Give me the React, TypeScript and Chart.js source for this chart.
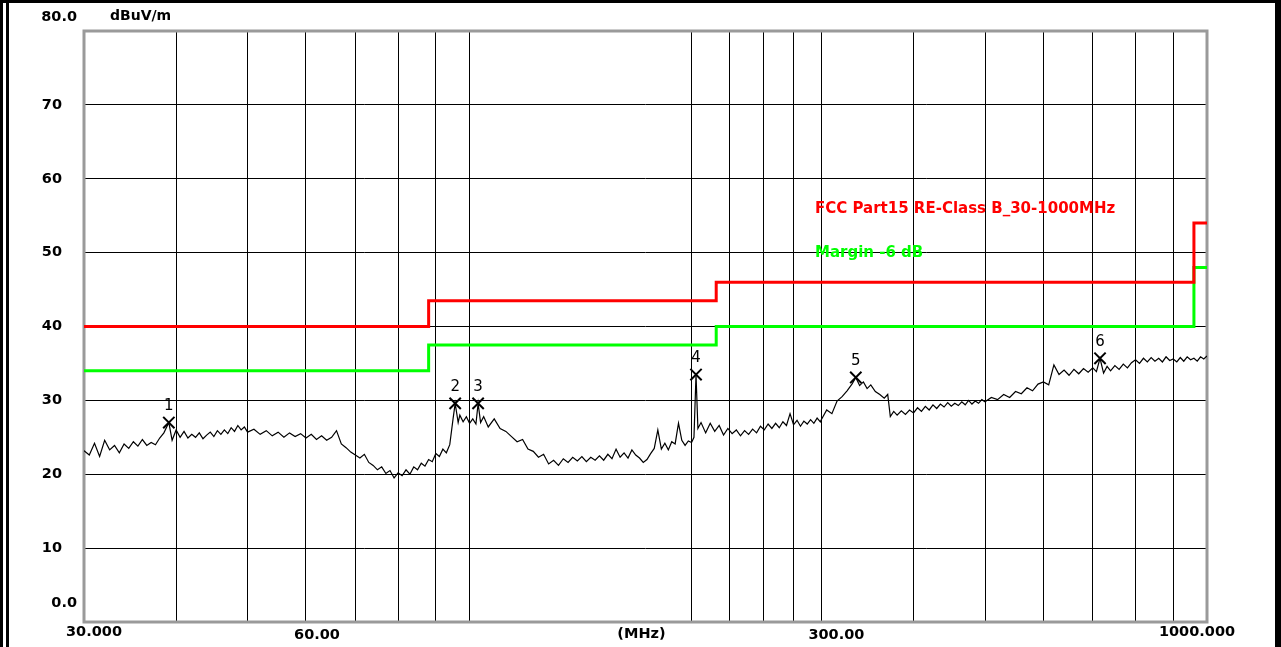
import React, { useEffect, useRef } from 'react';
import { Chart, registerables } from 'chart.js';

Chart.register(...registerables);

const FONT = '"DejaVu Sans", "Liberation Sans", sans-serif';

// ---- Measured trace (frequency in MHz, level in dBuV/m) ----
const traceFreqA = [30, 30.5, 31, 31.5, 32, 32.5, 33, 33.5, 34, 34.5, 35, 35.5, 36, 36.5, 37, 37.5, 38, 38.5, 39.1, 39.5, 40];
const traceValA = [23.2, 22.6, 24.2, 22.4, 24.6, 23.3, 23.9, 22.9, 24.1, 23.5, 24.4, 23.8, 24.7, 23.9, 24.3, 24.0, 24.9, 25.6, 27.0, 24.6, 26.0];

const traceFreqB = [40.5, 41, 41.5, 42, 42.5, 43, 43.5, 44, 44.5, 45, 45.5, 46, 46.5, 47, 47.5, 48, 48.5, 49, 49.5, 50];
const traceValB = [25.0, 25.8, 24.9, 25.4, 25.0, 25.6, 24.8, 25.3, 25.7, 25.1, 25.9, 25.4, 26.0, 25.5, 26.3, 25.8, 26.6, 26.0, 26.4, 25.7];

const traceFreqC = [51, 52, 53, 54, 55, 56, 57, 58, 59, 60, 61, 62, 63, 64, 65, 66, 67, 68, 69, 70];
const traceValC = [26.1, 25.4, 25.9, 25.2, 25.7, 25.0, 25.6, 25.1, 25.5, 24.9, 25.4, 24.7, 25.2, 24.6, 25.0, 25.9, 24.1, 23.6, 23.0, 22.6];

const traceFreqD = [71, 72, 73, 74, 75, 76, 77, 78, 79, 80, 81, 82, 83, 84, 85, 86, 87, 88, 89, 90, 91, 92, 93, 94, 95, 95.6, 96.5, 97, 98, 99, 100];
const traceValD = [22.2, 22.7, 21.6, 21.2, 20.6, 21.0, 20.1, 20.5, 19.5, 20.2, 19.8, 20.6, 20.0, 21.0, 20.6, 21.5, 21.1, 22.0, 21.7, 22.8, 22.4, 23.4, 22.9, 24.0, 27.6, 29.6, 27.0, 28.0, 27.1, 27.8, 26.9];

const traceFreqE = [101, 102, 102.7, 103.5, 104.5, 106, 108, 110, 112, 114, 116, 118, 120, 122, 124, 126, 128, 130, 132, 134, 136, 138, 140, 142, 144, 146, 148, 150, 152, 154, 156, 158, 160, 162, 164, 166, 168, 170, 172, 174, 176, 178, 180, 182, 184, 186, 188, 190, 192, 194, 196, 198, 200];
const traceValE = [27.5, 26.8, 29.6, 27.0, 27.8, 26.4, 27.5, 26.2, 25.8, 25.1, 24.4, 24.7, 23.4, 23.1, 22.3, 22.7, 21.4, 21.9, 21.2, 22.1, 21.6, 22.3, 21.8, 22.4, 21.7, 22.3, 21.9, 22.5, 21.9, 22.7, 22.1, 23.4, 22.3, 22.9, 22.2, 23.3, 22.6, 22.2, 21.6, 22.0, 22.8, 23.5, 26.0, 23.4, 24.2, 23.3, 24.4, 24.1, 26.9, 24.6, 23.9, 24.5, 24.3];

const traceFreqF = [201.5, 202.8, 204, 206, 209, 212, 215, 218, 221, 224, 227, 230, 233, 236, 239, 242, 245, 248, 251, 254, 257, 260, 263, 266, 269, 272, 275, 278, 281, 284, 287, 290, 293, 296, 299];
const traceValF = [25.0, 33.5, 26.2, 27.0, 25.6, 26.9, 25.8, 26.6, 25.3, 26.2, 25.5, 26.0, 25.2, 25.9, 25.4, 26.1, 25.6, 26.5, 26.0, 26.8, 26.2, 26.9, 26.3, 27.1, 26.6, 28.2, 26.7, 27.3, 26.5, 27.2, 26.8, 27.4, 26.9, 27.6, 27.1];

const traceFreqG = [300, 305, 310, 315, 320, 325, 330, 334, 338, 342, 346, 350, 355, 360, 365, 369, 372, 376, 380, 385, 390, 395, 400, 405, 410, 415, 420, 425, 430, 435, 440, 445, 450, 455, 460, 465, 470, 475, 480, 485, 490, 495];
const traceValG = [27.4, 28.7, 28.2, 29.9, 30.5, 31.3, 32.2, 33.1, 32.0, 32.5, 31.6, 32.1, 31.2, 30.8, 30.3, 30.8, 27.8, 28.5, 28.0, 28.6, 28.1, 28.7, 28.3, 29.0, 28.5, 29.2, 28.7, 29.4, 28.9, 29.5, 29.1, 29.7, 29.2, 29.6, 29.3, 29.8, 29.4, 30.0, 29.5, 29.9, 29.6, 30.1];

const traceFreqH = [500, 510, 520, 530, 540, 550, 560, 570, 580, 590, 600, 610, 620, 630, 640, 650, 660, 670, 680, 690, 700, 708, 716, 724, 732, 740, 750, 760, 770, 780, 790, 800, 810, 820, 830, 840, 850, 860, 870, 880, 890, 900, 910, 920, 930, 940, 950, 960, 970, 980, 990, 1000];
const traceValH = [29.8, 30.4, 30.1, 30.8, 30.4, 31.2, 30.9, 31.7, 31.3, 32.2, 32.5, 32.1, 34.8, 33.5, 34.1, 33.4, 34.2, 33.6, 34.3, 33.8, 34.4, 33.9, 35.7, 33.7, 34.6, 34.0, 34.7, 34.2, 34.9, 34.4, 35.1, 35.5, 35.0, 35.7, 35.2, 35.8, 35.3, 35.7, 35.2, 35.9, 35.4, 35.6, 35.2, 35.8, 35.3, 35.9, 35.5, 35.7, 35.3, 35.9, 35.6, 36.0];

// ---- Limit lines ----
const limitFreqs = [30, 88, 216, 960, 1000];
const limitValues = [40, 43.5, 46, 54, 54];
const marginValues = [34, 37.5, 40, 48, 48];
const limitLabel = 'FCC Part15 RE-Class B_30-1000MHz';
const marginLabel = 'Margin -6 dB';

// ---- Peak markers ----
const markerFreqs = [39.1, 95.6, 102.7, 202.8, 334, 716];
const markerValues = [27.0, 29.6, 29.6, 33.5, 33.1, 35.7];
const markerLabels = ['1', '2', '3', '4', '5', '6'];

// ---- Axes ----
const xGridValues = [40, 50, 60, 70, 80, 90, 100, 200, 225, 250, 275, 300, 400, 500, 600, 700, 800, 900];
const xTickValues = [30, 60, 300, 1000];
const xTickLabels = ['30.000', '60.00', '300.00', '1000.000'];
const yTickValues = [80, 70, 60, 50, 40, 30, 20, 10, 0];
const yTickLabels = ['80.0', '70', '60', '50', '40', '30', '20', '10', '0.0'];
const yUnit = 'dBuV/m';
const xUnit = '(MHz)';

// label placement (layout only)
const X_LABEL_DX = [10, 11, 15, -10];
const X_LABEL_Y = [632, 635, 635, 632];

const pairs = (xs: number[], ys: number[]) => xs.map((x, i) => ({ x, y: ys[i] }));

const textPlugin = {
  id: 'emcText',
  beforeDatasetsDraw(chart: any) {
    const ctx = chart.ctx;
    const a = chart.chartArea;
    ctx.save();
    ctx.strokeStyle = '#9a9a9a';
    ctx.lineWidth = 3;
    ctx.strokeRect(a.left, a.top, a.right - a.left, a.bottom - a.top);
    ctx.restore();
  },
  afterDraw(chart: any) {
    const ctx = chart.ctx;
    const xs = chart.scales.x;
    const ys = chart.scales.y;
    const a = chart.chartArea;
    ctx.save();
    ctx.fillStyle = '#000';
    ctx.textBaseline = 'middle';

    // y labels
    ctx.font = `bold 14.5px ${FONT}`;
    yTickValues.forEach((v, i) => {
      const py = ys.getPixelForValue(v);
      ctx.textAlign = 'right';
      if (i === 0) ctx.fillText(yTickLabels[i], 77, py - 14);
      else if (i === yTickValues.length - 1) ctx.fillText(yTickLabels[i], 77, py - 19);
      else ctx.fillText(yTickLabels[i], 62, py);
    });
    ctx.textAlign = 'left';
    ctx.font = `bold 14px ${FONT}`;
    ctx.fillText(yUnit, 110, 16);

    // x labels
    ctx.font = `bold 14.5px ${FONT}`;
    ctx.textAlign = 'center';
    xTickValues.forEach((v, i) => {
      ctx.fillText(xTickLabels[i], xs.getPixelForValue(v) + X_LABEL_DX[i], X_LABEL_Y[i]);
    });
    ctx.fillText(xUnit, (a.left + a.right) / 2 - 4, 634);

    // marker numbers
    const meta = chart.getDatasetMeta(0);
    ctx.font = `15px ${FONT}`;
    meta.data.forEach((pt: any, i: number) => {
      ctx.fillText(markerLabels[i], pt.x, pt.y - 16);
    });

    // legend text
    ctx.textAlign = 'left';
    ctx.font = `bold 15px ${FONT}`;
    ctx.fillStyle = '#ff0000';
    ctx.fillText(limitLabel, 815, 209);
    ctx.fillStyle = '#00ff00';
    ctx.fillText(marginLabel, 815, 253);
    ctx.restore();
  },
};

export default function App() {
  const ref = useRef<HTMLCanvasElement>(null);

  useEffect(() => {
    const trace = [
      ...pairs(traceFreqA, traceValA),
      ...pairs(traceFreqB, traceValB),
      ...pairs(traceFreqC, traceValC),
      ...pairs(traceFreqD, traceValD),
      ...pairs(traceFreqE, traceValE),
      ...pairs(traceFreqF, traceValF),
      ...pairs(traceFreqG, traceValG),
      ...pairs(traceFreqH, traceValH),
    ];
    const gridOpts = { color: '#000', lineWidth: 1, drawTicks: false };
    const chart = new Chart(ref.current as HTMLCanvasElement, {
      type: 'line',
      data: {
        datasets: [
          {
            label: 'Markers',
            data: pairs(markerFreqs, markerValues),
            showLine: false,
            pointStyle: 'crossRot',
            pointRadius: 8,
            pointBorderWidth: 2,
            borderColor: '#000',
            backgroundColor: '#000',
          } as any,
          {
            label: 'Trace',
            data: trace,
            borderColor: '#000',
            borderWidth: 1.2,
            pointRadius: 0,
            tension: 0,
          },
          {
            label: limitLabel,
            data: pairs(limitFreqs, limitValues),
            borderColor: '#ff0000',
            borderWidth: 3,
            stepped: 'before',
            pointRadius: 0,
          },
          {
            label: marginLabel,
            data: pairs(limitFreqs, marginValues),
            borderColor: '#00ff00',
            borderWidth: 3,
            stepped: 'before',
            pointRadius: 0,
          },
        ],
      },
      options: {
        responsive: false,
        animation: false,
        devicePixelRatio: 1,
        layout: { padding: { left: 84, top: 31, right: 74, bottom: 25 } },
        plugins: { legend: { display: false }, tooltip: { enabled: false } },
        scales: {
          x: {
            type: 'logarithmic',
            min: 30,
            max: 1000,
            afterBuildTicks: (s: any) => {
              s.ticks = xGridValues.map((v) => ({ value: v }));
            },
            ticks: { display: false },
            grid: gridOpts,
            border: { display: false },
          },
          y: {
            type: 'linear',
            min: 0,
            max: 80,
            ticks: { display: false, stepSize: 10 },
            grid: gridOpts,
            border: { display: false },
          },
        },
      } as any,
      plugins: [textPlugin],
    });
    return () => chart.destroy();
  }, []);

  const bar = (l: number, t: number, w: number, h: number) => (
    <div style={{ position: 'absolute', left: l, top: t, width: w, height: h, background: '#000' }} />
  );

  return (
    <div style={{ position: 'fixed', left: 0, top: 0, width: 1281, height: 647, background: '#fff', overflow: 'hidden' }}>
      <canvas ref={ref} width={1281} height={647} style={{ position: 'absolute', left: 0, top: 0, width: 1281, height: 647 }} />
      {bar(0, 0, 1281, 3)}
      {bar(0, 0, 3, 647)}
      {bar(6, 0, 3, 647)}
      {bar(1275, 0, 6, 647)}
    </div>
  );
}
